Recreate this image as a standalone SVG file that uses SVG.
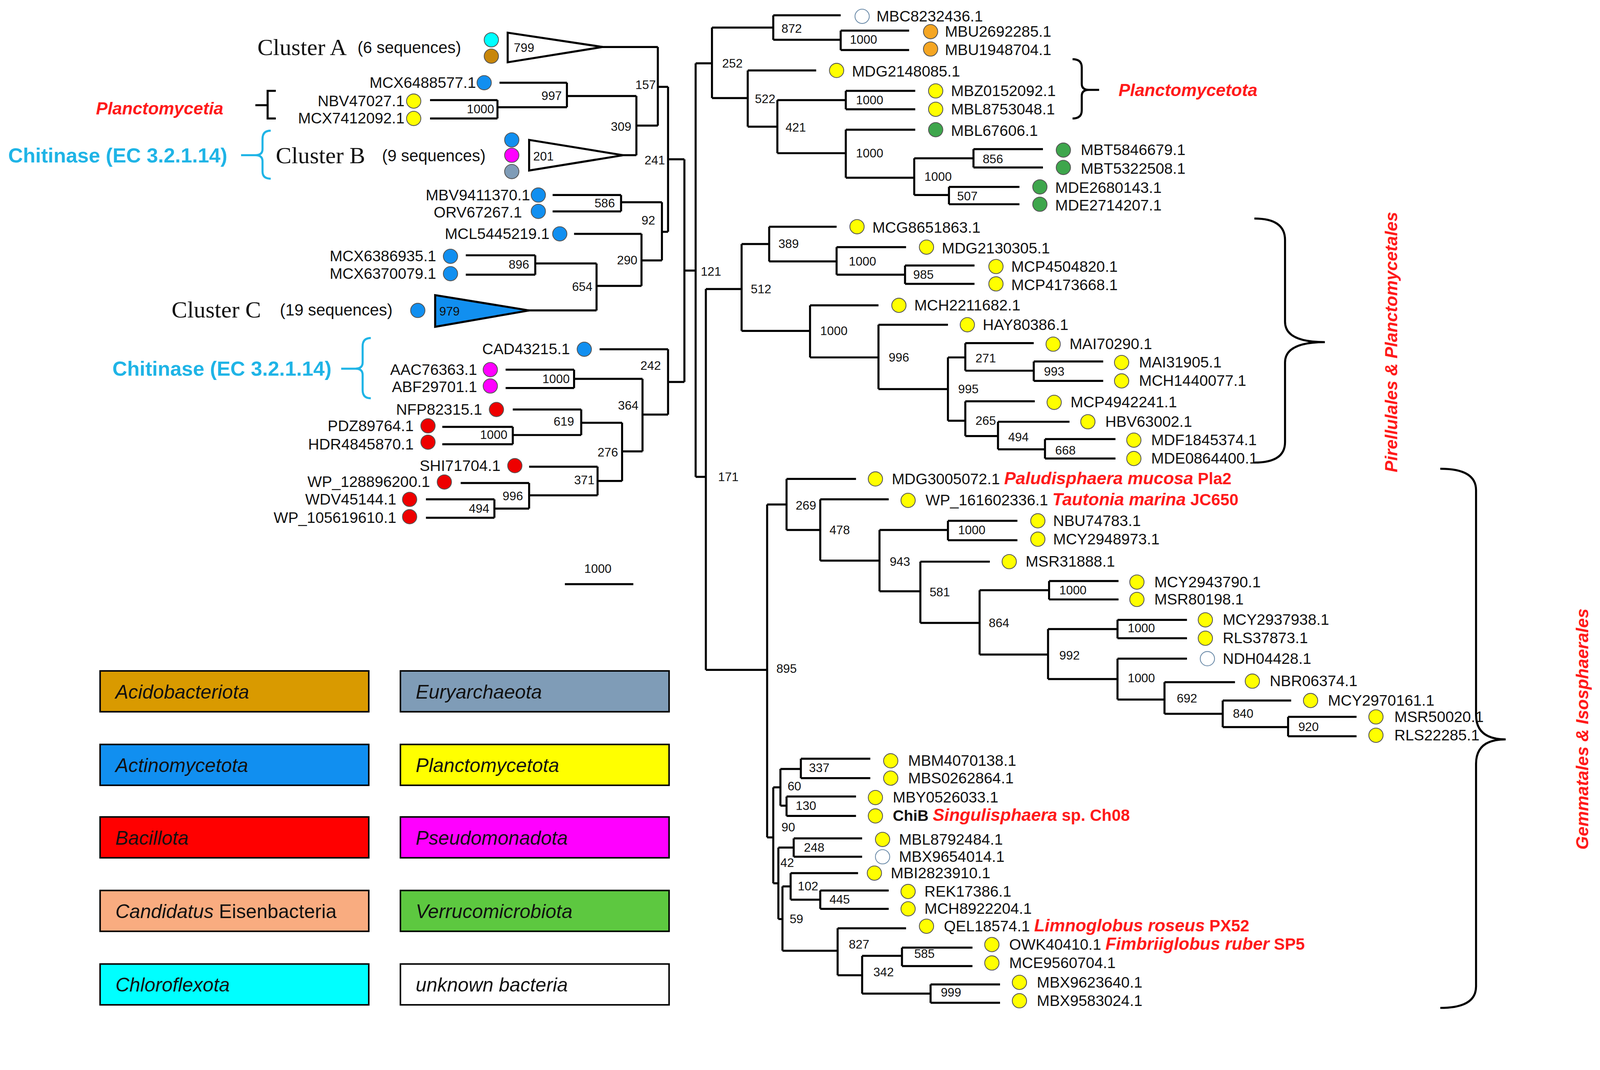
<svg xmlns="http://www.w3.org/2000/svg" width="4313" height="2740" viewBox="0 0 4313 2740">
<style>
text{font-family:"Liberation Sans",Arial,sans-serif;fill:#111}
.l{font-size:15px}
.le{font-size:15px;text-anchor:end}
.b{font-size:12px}
.r{font-size:17px;font-style:italic;font-weight:bold;fill:#ff1a1a}
.c{font-size:20px;font-weight:bold;fill:#1fb4e6}
.cl{font-family:"Liberation Serif",serif;font-size:23px}
.sq{font-size:16px}
.lg{font-size:19px;font-style:italic}
.e{stroke:#000;stroke-width:2;fill:none}
.d{stroke:#555;stroke-width:0.8}
.y{fill:#ffff00}.bl{fill:#118ff0}.rd{fill:#ee0000}.gn{fill:#3ea64c}.or{fill:#f5a623}.cy{fill:#00ffff}.br{fill:#c8860a}.mg{fill:#ff00ff}.gy{fill:#7f9cb7}.wh{fill:#fff;stroke:#6a8aa8}
.box{stroke:#000;stroke-width:1.5}
</style>
<rect width="4313" height="2740" fill="#fff"/>
<g transform="scale(2.615 2.615)">
<g id="connectors">
<path class="e" d="M588 46 H644 M644 46 V123 M644 85 H654 M623 123 H644 M623 94 V152 M608 152 H623 M489 81 H555 M555 81 V105 M555 94 H623 M421 98 H487 M421 116 H487 M487 98 V116 M487 105 H555 M654 85 V227 M654 156 H670 M670 156 V374 M670 265 H681 M541 191 H608 M541 207 H608 M608 191 V207 M608 198 H648 M648 198 V255 M648 227 H654 M562 229 H628 M628 229 V280 M628 255 H648 M584 258 V304 M584 280 H628 M516 304 H584 M456 250 H524 M456 269 H524 M524 250 V269 M524 258 H584 M654 342 V406 M654 374 H670 M587 342 H654 M629 371 V442 M629 406 H654 M495 362 H562 M495 380 H562 M562 362 V380 M562 371 H629 M609 414 V471 M609 442 H629 M502 401 H569 M569 401 V426 M569 414 H609 M433 418 H502 M433 435 H502 M502 418 V435 M502 426 H569 M585 457 V485 M585 471 H609 M518 457 H585 M518 473 V498 M518 485 H585 M451 473 H518 M484 489 V507 M484 498 H518 M417 489 H484 M417 507 H484"/>
<path class="e" d="M681 62 V467 M681 62 H697 M697 27 V96 M697 27 H757 M757 15 V39 M757 15 H823 M757 39 H823 M823 30 V49 M823 30 H890 M823 49 H890 M697 96 H732 M732 69 V124 M732 69 H799 M732 124 H761 M761 98 V150 M761 98 H828 M828 89 V107 M828 89 H896 M828 107 H896 M761 150 H828 M828 127 V174 M828 127 H896 M828 174 H895 M895 155 V191 M895 155 H953 M953 146 V164 M953 146 H1021 M953 164 H1021 M895 191 H929 M929 183 V200 M929 183 H998 M929 200 H998 M681 467 H691 M691 283 V656 M691 283 H726 M726 239 V324 M726 239 H753 M753 222 V256 M753 222 H819 M753 256 H819 M819 242 V269 M819 242 H887 M819 269 H886 M886 260 V278 M886 260 H954 M886 278 H954 M726 324 H793 M793 299 V350 M793 299 H860 M793 350 H860 M860 318 V381 M860 318 H928 M860 381 H928 M928 350 V412 M928 350 H945 M945 336 V363 M945 336 H1012 M945 363 H1012 M1012 354 V373 M1012 354 H1080 M1012 373 H1080 M928 412 H945 M945 393 V427 M945 393 H1013 M945 427 H977 M977 413 V440 M977 413 H1047 M977 440 H1023 M1023 430 V449 M1023 430 H1092 M1023 449 H1092 M691 656 H751 M751 494 V820 M751 494 H770 M770 469 V519 M770 469 H838 M770 519 H803 M803 489 V549 M803 489 H870 M803 549 H861 M861 519 V579 M861 519 H928 M928 510 V529 M928 510 H996 M928 529 H996 M861 579 H901 M901 550 V610 M901 550 H969 M901 610 H959 M959 578 V641 M959 578 H1027 M1027 569 V587 M1027 569 H1095 M1027 587 H1095 M959 641 H1026 M1026 616 V665 M1026 616 H1094 M1094 607 V625 M1094 607 H1162 M1094 625 H1162 M1026 665 H1094 M1094 645 V685 M1094 645 H1162 M1094 685 H1140 M1140 668 V699 M1140 668 H1209 M1140 699 H1197 M1197 686 V712 M1197 686 H1264 M1197 712 H1261 M1261 702 V721 M1261 702 H1328 M1261 721 H1328 M751 820 H757 M757 771 V865 M757 771 H764 M764 753 V789 M764 753 H784 M784 743 V762 M784 743 H852 M784 762 H852 M764 789 H770 M770 780 V799 M770 780 H838 M770 799 H838 M757 865 H762 M762 830 V900 M762 830 H777 M777 821 V839 M777 821 H844 M777 839 H844 M762 900 H766 M766 868 V931 M766 868 H774 M774 855 V881 M774 855 H840 M774 881 H803 M803 872 V890 M803 872 H870 M803 890 H870 M766 931 H820 M820 909 V955 M820 909 H887 M820 955 H844 M844 936 V973 M844 936 H883 M883 928 V946 M883 928 H952 M883 946 H952 M844 973 H911 M911 964 V982 M911 964 H979 M911 982 H979"/>
<path class="e" d="M553 572 H620"/>
<path class="e" stroke-width="1.8" d="M270 89 H262 V116 H270 M250 103 H262 M1050 58 Q1059 58 1059 66 V82 Q1059 88 1066 88 Q1059 88 1059 94 V108 Q1059 116 1050 116 M1066 88 H1076 M1228 214 Q1258 214 1258 235 V315 Q1258 335 1297 335 Q1258 335 1258 355 V433 Q1258 453 1228 453 M1410 459 Q1445 459 1445 480 V700 Q1445 724 1474 724 Q1445 724 1445 748 V966 Q1445 987 1410 987"/>
<path d="M265 128 Q257 128 257 136 V146 Q257 152 250 152 Q257 152 257 158 V168 Q257 175 265 175 M236 152 H250 M363 331 Q355 331 355 339 V355 Q355 361 348 361 Q355 361 355 367 V382 Q355 390 363 390 M334 361 H348" stroke="#1fb4e6" stroke-width="2" fill="none"/>
</g>
<g id="clusters">
<polygon points="497,32 497,61 590,46" fill="#fff" stroke="#000" stroke-width="2"/>
<polygon points="518,137 518,167 610,152" fill="#fff" stroke="#000" stroke-width="2"/>
<polygon points="426,289 426,320 518,304" fill="#118ff0" stroke="#000" stroke-width="2"/>
<text class="b" x="503" y="51">799</text><text class="b" x="522" y="157">201</text><text class="b" x="430" y="309">979</text>
<text class="cl" x="252" y="54">Cluster A</text><text class="sq" x="350" y="52">(6 sequences)</text>
<text class="cl" x="270" y="160">Cluster B</text><text class="sq" x="374" y="158">(9 sequences)</text>
<text class="cl" x="168" y="311">Cluster C</text><text class="sq" x="274" y="309">(19 sequences)</text>
<text class="r" x="94" y="112">Planctomycetia</text>
<text class="c" x="8" y="159">Chitinase (EC 3.2.1.14)</text>
<text class="c" x="110" y="368">Chitinase (EC 3.2.1.14)</text>
<text class="r" x="1095" y="94">Planctomycetota</text>
<text class="r" transform="translate(1368 335) rotate(-90)" text-anchor="middle">Pirellulales &amp; Planctomycetales</text>
<text class="r" transform="translate(1555 714) rotate(-90)" text-anchor="middle">Gemmatales &amp; Isosphaerales</text>
</g>
<g id="dots" class="d">
<circle class="cy" cx="481" cy="39" r="7"/><circle class="br" cx="481" cy="55" r="7"/>
<circle class="bl" cx="474" cy="81" r="7"/><circle class="y" cx="405" cy="99" r="7"/><circle class="y" cx="405" cy="116" r="7"/>
<circle class="bl" cx="501" cy="137" r="7"/><circle class="mg" cx="501" cy="152" r="7"/><circle class="gy" cx="501" cy="168" r="7"/>
<circle class="bl" cx="527" cy="191" r="7"/><circle class="bl" cx="527" cy="207" r="7"/><circle class="bl" cx="548" cy="229" r="7"/>
<circle class="bl" cx="441" cy="251" r="7"/><circle class="bl" cx="441" cy="268" r="7"/><circle class="bl" cx="409" cy="304" r="7"/>
<circle class="bl" cx="572" cy="342" r="7"/><circle class="mg" cx="480" cy="362" r="7"/><circle class="mg" cx="480" cy="378" r="7"/>
<circle class="rd" cx="486" cy="401" r="7"/><circle class="rd" cx="419" cy="417" r="7"/><circle class="rd" cx="419" cy="433" r="7"/>
<circle class="rd" cx="504" cy="456" r="7"/><circle class="rd" cx="435" cy="472" r="7"/><circle class="rd" cx="401" cy="489" r="7"/><circle class="rd" cx="401" cy="506" r="7"/>
<circle class="wh" cx="844" cy="16" r="7"/><circle class="or" cx="911" cy="31" r="7"/><circle class="or" cx="911" cy="48" r="7"/>
<circle class="y" cx="819" cy="69" r="7"/><circle class="y" cx="916" cy="89" r="7"/><circle class="y" cx="916" cy="107" r="7"/>
<circle class="gn" cx="916" cy="127" r="7"/><circle class="gn" cx="1041" cy="147" r="7"/><circle class="gn" cx="1041" cy="164" r="7"/><circle class="gn" cx="1018" cy="183" r="7"/><circle class="gn" cx="1018" cy="200" r="7"/>
<circle class="y" cx="839" cy="222" r="7"/><circle class="y" cx="907" cy="242" r="7"/><circle class="y" cx="975" cy="261" r="7"/><circle class="y" cx="975" cy="278" r="7"/>
<circle class="y" cx="880" cy="299" r="7"/><circle class="y" cx="947" cy="318" r="7"/><circle class="y" cx="1031" cy="337" r="7"/><circle class="y" cx="1098" cy="355" r="7"/><circle class="y" cx="1098" cy="373" r="7"/>
<circle class="y" cx="1032" cy="394" r="7"/><circle class="y" cx="1065" cy="413" r="7"/><circle class="y" cx="1110" cy="431" r="7"/><circle class="y" cx="1110" cy="449" r="7"/>
<circle class="y" cx="857" cy="469" r="7"/><circle class="y" cx="889" cy="490" r="7"/><circle class="y" cx="1016" cy="510" r="7"/><circle class="y" cx="1016" cy="528" r="7"/>
<circle class="y" cx="988" cy="550" r="7"/><circle class="y" cx="1113" cy="570" r="7"/><circle class="y" cx="1113" cy="587" r="7"/>
<circle class="y" cx="1180" cy="607" r="7"/><circle class="y" cx="1180" cy="625" r="7"/><circle class="wh" cx="1182" cy="645" r="7"/>
<circle class="y" cx="1226" cy="667" r="7"/><circle class="y" cx="1283" cy="686" r="7"/><circle class="y" cx="1347" cy="702" r="7"/><circle class="y" cx="1347" cy="720" r="7"/>
<circle class="y" cx="872" cy="745" r="7"/><circle class="y" cx="872" cy="762" r="7"/><circle class="y" cx="857" cy="781" r="7"/><circle class="y" cx="857" cy="799" r="7"/>
<circle class="y" cx="864" cy="822" r="7"/><circle class="wh" cx="864" cy="839" r="7"/><circle class="y" cx="856" cy="855" r="7"/>
<circle class="y" cx="889" cy="873" r="7"/><circle class="y" cx="889" cy="890" r="7"/><circle class="y" cx="907" cy="907" r="7"/>
<circle class="y" cx="971" cy="925" r="7"/><circle class="y" cx="971" cy="943" r="7"/><circle class="y" cx="998" cy="962" r="7"/><circle class="y" cx="998" cy="980" r="7"/>
</g>
<g id="leaves-left">
<text class="le" x="466" y="86">MCX6488577.1</text><text class="le" x="396" y="104">NBV47027.1</text><text class="le" x="396" y="121">MCX7412092.1</text>
<text class="le" x="519" y="196">MBV9411370.1</text><text class="le" x="511" y="213">ORV67267.1</text><text class="le" x="538" y="234">MCL5445219.1</text>
<text class="le" x="427" y="256">MCX6386935.1</text><text class="le" x="427" y="273">MCX6370079.1</text>
<text class="le" x="558" y="347">CAD43215.1</text><text class="le" x="467" y="367">AAC76363.1</text><text class="le" x="467" y="384">ABF29701.1</text>
<text class="le" x="472" y="406">NFP82315.1</text><text class="le" x="405" y="422">PDZ89764.1</text><text class="le" x="405" y="440">HDR4845870.1</text>
<text class="le" x="490" y="461">SHI71704.1</text><text class="le" x="421" y="477">WP_128896200.1</text><text class="le" x="388" y="494">WDV45144.1</text><text class="le" x="388" y="512">WP_105619610.1</text>
</g>
<g id="leaves-right">
<text class="l" x="858" y="21">MBC8232436.1</text><text class="l" x="925" y="36">MBU2692285.1</text><text class="l" x="925" y="54">MBU1948704.1</text>
<text class="l" x="834" y="75">MDG2148085.1</text><text class="l" x="931" y="94">MBZ0152092.1</text><text class="l" x="931" y="112">MBL8753048.1</text>
<text class="l" x="931" y="133">MBL67606.1</text><text class="l" x="1058" y="152">MBT5846679.1</text><text class="l" x="1058" y="170">MBT5322508.1</text><text class="l" x="1033" y="189">MDE2680143.1</text><text class="l" x="1033" y="206">MDE2714207.1</text>
<text class="l" x="854" y="228">MCG8651863.1</text><text class="l" x="922" y="248">MDG2130305.1</text><text class="l" x="990" y="266">MCP4504820.1</text><text class="l" x="990" y="284">MCP4173668.1</text>
<text class="l" x="895" y="304">MCH2211682.1</text><text class="l" x="962" y="323">HAY80386.1</text><text class="l" x="1047" y="342">MAI70290.1</text><text class="l" x="1115" y="360">MAI31905.1</text><text class="l" x="1115" y="378">MCH1440077.1</text>
<text class="l" x="1048" y="399">MCP4942241.1</text><text class="l" x="1082" y="418">HBV63002.1</text><text class="l" x="1127" y="436">MDF1845374.1</text><text class="l" x="1127" y="454">MDE0864400.1</text>
<text class="l" x="873" y="474">MDG3005072.1 <tspan class="r" font-size="16">Paludisphaera mucosa</tspan><tspan font-size="16" font-weight="bold" fill="#ff1a1a"> Pla2</tspan></text>
<text class="l" x="906" y="495">WP_161602336.1 <tspan class="r" font-size="16">Tautonia marina</tspan><tspan font-size="16" font-weight="bold" fill="#ff1a1a"> JC650</tspan></text>
<text class="l" x="1031" y="515">NBU74783.1</text><text class="l" x="1031" y="533">MCY2948973.1</text><text class="l" x="1004" y="555">MSR31888.1</text>
<text class="l" x="1130" y="575">MCY2943790.1</text><text class="l" x="1130" y="592">MSR80198.1</text><text class="l" x="1197" y="612">MCY2937938.1</text><text class="l" x="1197" y="630">RLS37873.1</text>
<text class="l" x="1197" y="650">NDH04428.1</text><text class="l" x="1243" y="672">NBR06374.1</text><text class="l" x="1300" y="691">MCY2970161.1</text><text class="l" x="1365" y="707">MSR50020.1</text><text class="l" x="1365" y="725">RLS22285.1</text>
<text class="l" x="889" y="750">MBM4070138.1</text><text class="l" x="889" y="767">MBS0262864.1</text><text class="l" x="874" y="786">MBY0526033.1</text>
<text class="l" x="874" y="804"><tspan font-weight="bold">ChiB</tspan> <tspan class="r" font-size="16">Singulisphaera</tspan><tspan font-size="16" font-weight="bold" fill="#ff1a1a"> sp. Ch08</tspan></text>
<text class="l" x="880" y="827">MBL8792484.1</text><text class="l" x="880" y="844">MBX9654014.1</text><text class="l" x="872" y="860">MBI2823910.1</text>
<text class="l" x="905" y="878">REK17386.1</text><text class="l" x="905" y="895">MCH8922204.1</text>
<text class="l" x="924" y="912">QEL18574.1 <tspan class="r" font-size="16">Limnoglobus roseus</tspan><tspan font-size="16" font-weight="bold" fill="#ff1a1a"> PX52</tspan></text>
<text class="l" x="988" y="930">OWK40410.1 <tspan class="r" font-size="16">Fimbriiglobus ruber</tspan><tspan font-size="16" font-weight="bold" fill="#ff1a1a"> SP5</tspan></text>
<text class="l" x="988" y="948">MCE9560704.1</text><text class="l" x="1015" y="967">MBX9623640.1</text><text class="l" x="1015" y="985">MBX9583024.1</text>
</g>
<g id="bootstrap" class="b">
<text class="b" x="622" y="87">157</text><text class="b" x="530" y="98">997</text><text class="b" x="457" y="111">1000</text><text class="b" x="598" y="128">309</text><text class="b" x="631" y="161">241</text>
<text class="b" x="582" y="203">586</text><text class="b" x="628" y="220">92</text><text class="b" x="604" y="259">290</text><text class="b" x="498" y="263">896</text><text class="b" x="560" y="285">654</text>
<text class="b" x="627" y="362">242</text><text class="b" x="531" y="375">1000</text><text class="b" x="605" y="401">364</text><text class="b" x="542" y="417">619</text><text class="b" x="470" y="430">1000</text>
<text class="b" x="585" y="447">276</text><text class="b" x="562" y="474">371</text><text class="b" x="492" y="490">996</text><text class="b" x="459" y="502">494</text>
<text class="b" x="572" y="561">1000</text>
<text class="b" x="686" y="270">121</text><text class="b" x="703" y="471">171</text><text class="b" x="707" y="66">252</text><text class="b" x="765" y="32">872</text><text class="b" x="832" y="43">1000</text>
<text class="b" x="739" y="101">522</text><text class="b" x="769" y="129">421</text><text class="b" x="838" y="102">1000</text><text class="b" x="838" y="154">1000</text><text class="b" x="905" y="177">1000</text><text class="b" x="962" y="160">856</text><text class="b" x="937" y="196">507</text>
<text class="b" x="762" y="243">389</text><text class="b" x="735" y="287">512</text><text class="b" x="831" y="260">1000</text><text class="b" x="894" y="273">985</text><text class="b" x="803" y="328">1000</text><text class="b" x="870" y="354">996</text>
<text class="b" x="955" y="355">271</text><text class="b" x="1022" y="368">993</text><text class="b" x="938" y="385">995</text><text class="b" x="955" y="416">265</text><text class="b" x="987" y="432">494</text><text class="b" x="1033" y="445">668</text>
<text class="b" x="779" y="499">269</text><text class="b" x="812" y="523">478</text><text class="b" x="938" y="523">1000</text><text class="b" x="871" y="554">943</text><text class="b" x="910" y="584">581</text><text class="b" x="968" y="614">864</text>
<text class="b" x="1037" y="582">1000</text><text class="b" x="1037" y="646">992</text><text class="b" x="1104" y="619">1000</text><text class="b" x="1104" y="668">1000</text><text class="b" x="1152" y="688">692</text><text class="b" x="1207" y="703">840</text><text class="b" x="1271" y="716">920</text>
<text class="b" x="760" y="659">895</text><text class="b" x="792" y="756">337</text><text class="b" x="771" y="774">60</text><text class="b" x="779" y="793">130</text><text class="b" x="765" y="814">90</text><text class="b" x="787" y="834">248</text><text class="b" x="764" y="849">42</text>
<text class="b" x="781" y="872">102</text><text class="b" x="812" y="885">445</text><text class="b" x="773" y="904">59</text><text class="b" x="831" y="929">827</text><text class="b" x="855" y="956">342</text><text class="b" x="895" y="938">585</text><text class="b" x="921" y="976">999</text>
</g>
<g id="legend">
<rect class="box" x="98" y="657" width="263" height="40" fill="#d99a00"/><text class="lg" x="113" y="684">Acidobacteriota</text>
<rect class="box" x="392" y="657" width="263" height="40" fill="#7f9cb7"/><text class="lg" x="407" y="684">Euryarchaeota</text>
<rect class="box" x="98" y="729" width="263" height="40" fill="#118ff0"/><text class="lg" x="113" y="756">Actinomycetota</text>
<rect class="box" x="392" y="729" width="263" height="40" fill="#ffff00"/><text class="lg" x="407" y="756">Planctomycetota</text>
<rect class="box" x="98" y="800" width="263" height="40" fill="#ff0000"/><text class="lg" x="113" y="827">Bacillota</text>
<rect class="box" x="392" y="800" width="263" height="40" fill="#ff00ff"/><text class="lg" x="407" y="827">Pseudomonadota</text>
<rect class="box" x="98" y="872" width="263" height="40" fill="#f9ac80"/><text class="lg" x="113" y="899">Candidatus<tspan font-style="normal"> Eisenbacteria</tspan></text>
<rect class="box" x="392" y="872" width="263" height="40" fill="#5dc840"/><text class="lg" x="407" y="899">Verrucomicrobiota</text>
<rect class="box" x="98" y="944" width="263" height="40" fill="#00ffff"/><text class="lg" x="113" y="971">Chloroflexota</text>
<rect class="box" x="392" y="944" width="263" height="40" fill="#fff"/><text class="lg" x="407" y="971" font-style="normal">unknown bacteria</text>
</g>
</g>
</svg>
